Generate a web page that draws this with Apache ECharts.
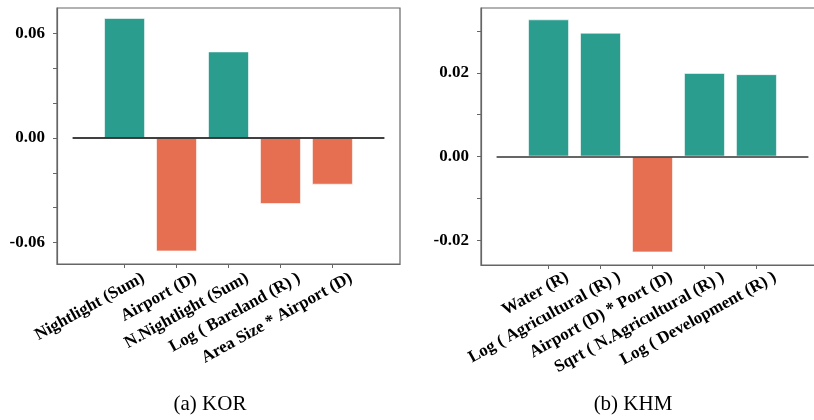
<!DOCTYPE html>
<html>
<head>
<meta charset="utf-8">
<script src="https://cdn.jsdelivr.net/npm/echarts@6/dist/echarts.min.js"></script>
<style>html,body{margin:0;padding:0;background:#fff}#c{width:814px;height:420px}</style>
</head>
<body>
<div id="c"></div>
<script>
// ---- data ----
const korCategories = ['Nightlight (Sum)', 'Airport (D)', 'N.Nightlight (Sum)', 'Log ( Bareland (R) )', 'Area Size * Airport (D)'];
const korValues = [0.0689, -0.0651, 0.0497, -0.0379, -0.0268];
const korYTicks = [-0.06, -0.04, -0.02, 0.00, 0.02, 0.04, 0.06];
const korYLabels = [-0.06, 0.00, 0.06];

const khmCategories = ['Water (R)', 'Log ( Agricultural (R) )', 'Airport (D) * Port (D)', 'Sqrt ( N.Agricultural (R) )', 'Log ( Development (R) )'];
const khmValues = [0.0328, 0.0296, -0.0229, 0.0200, 0.0197];
const khmYTicks = [-0.02, -0.01, 0.00, 0.01, 0.02, 0.03];
const khmYLabels = [-0.02, 0.00, 0.02];

const captions = ['(a) KOR', '(b) KHM'];

const POS = '#2a9d8f', NEG = '#e76f51';
const SERIF = '"Liberation Serif", "Times New Roman", serif';

function idx(n){ const a=[]; for(let i=0;i<n;i++) a.push(i); return a; }

function panel(gi, cats, vals, yTicks, yLabels, ymin, ymax, shift, margin){
  const n = cats.length;
  const xAxes = [
    { gridIndex: gi, type: 'value', min: -1.3, max: n + 0.3, position: 'bottom',
      axisLine: { show: true, onZero: false, lineStyle: { color: '#666', width: 1.2 } },
      axisTick: { show: true, customValues: idx(n), length: 4, lineStyle: { color: '#666', width: 1 } },
      axisLabel: { show: false }, splitLine: { show: false } },
    { gridIndex: gi, type: 'value', min: -1.3 - shift, max: n + 0.3 - shift, position: 'bottom',
      axisLine: { show: false, onZero: false }, axisTick: { show: false }, splitLine: { show: false },
      axisLabel: { show: true, customValues: idx(n), rotate: 29, margin: margin,
        formatter: v => cats[Math.round(v)], fontFamily: SERIF, fontWeight: 'bold', fontSize: 17, color: '#000' } }
  ];
  const yAxis = { gridIndex: gi, type: 'value', min: ymin, max: ymax,
    axisLine: { show: true, onZero: false, lineStyle: { color: '#666', width: 1.2 } },
    axisTick: { show: true, customValues: yTicks, length: 4, lineStyle: { color: '#666', width: 1 } },
    axisLabel: { show: true, customValues: yLabels, margin: 12, formatter: v => v.toFixed(2),
      fontFamily: SERIF, fontWeight: 'bold', fontSize: 17, color: '#000' },
    splitLine: { show: false } };
  const series = { type: 'bar', xAxisIndex: gi*2, yAxisIndex: gi, barWidth: 41,
    data: vals.map((v,i) => ({ value: [i, v], itemStyle: { color: v >= 0 ? POS : NEG } })),
    itemStyle: { borderColor: 'rgba(255,255,255,0.6)', borderWidth: 1 },
    markLine: { silent: true, symbol: 'none', label: { show: false },
      lineStyle: { color: gi === 0 ? '#000' : '#333', width: 1.5, type: 'solid' },
      data: [[{ coord: [-1, 0] }, { coord: [n, 0] }]] } };
  return { xAxes, yAxis, series };
}

const p1 = panel(0, korCategories, korValues, korYTicks, korYLabels, -0.0723, 0.0746, 0.36, 13);
const p2 = panel(1, khmCategories, khmValues, khmYTicks, khmYLabels, -0.0259, 0.0355, 0.36, 11);

const chart = echarts.init(document.getElementById('c'), null, { renderer: 'canvas' });
chart.setOption({
  animation: false,
  backgroundColor: '#fff',
  title: [
    { text: captions[0], left: 205, top: 389, textAlign: 'center', textStyle: { fontFamily: SERIF, fontWeight: 'normal', fontSize: 21, color: '#000' } },
    { text: captions[1], left: 628, top: 389, textAlign: 'center', textStyle: { fontFamily: SERIF, fontWeight: 'normal', fontSize: 21, color: '#000' } }
  ],
  grid: [
    { left: 57, top: 8, width: 343, height: 256, show: true, borderColor: '#666', borderWidth: 1.2, backgroundColor: 'transparent', outerBoundsMode: 'none', containLabel: false },
    { left: 481, top: 8, width: 343, height: 257, show: true, borderColor: '#666', borderWidth: 1.2, backgroundColor: 'transparent', outerBoundsMode: 'none', containLabel: false }
  ],
  xAxis: [...p1.xAxes, ...p2.xAxes],
  yAxis: [p1.yAxis, p2.yAxis],
  series: [p1.series, p2.series]
});
</script>
</body>
</html>
